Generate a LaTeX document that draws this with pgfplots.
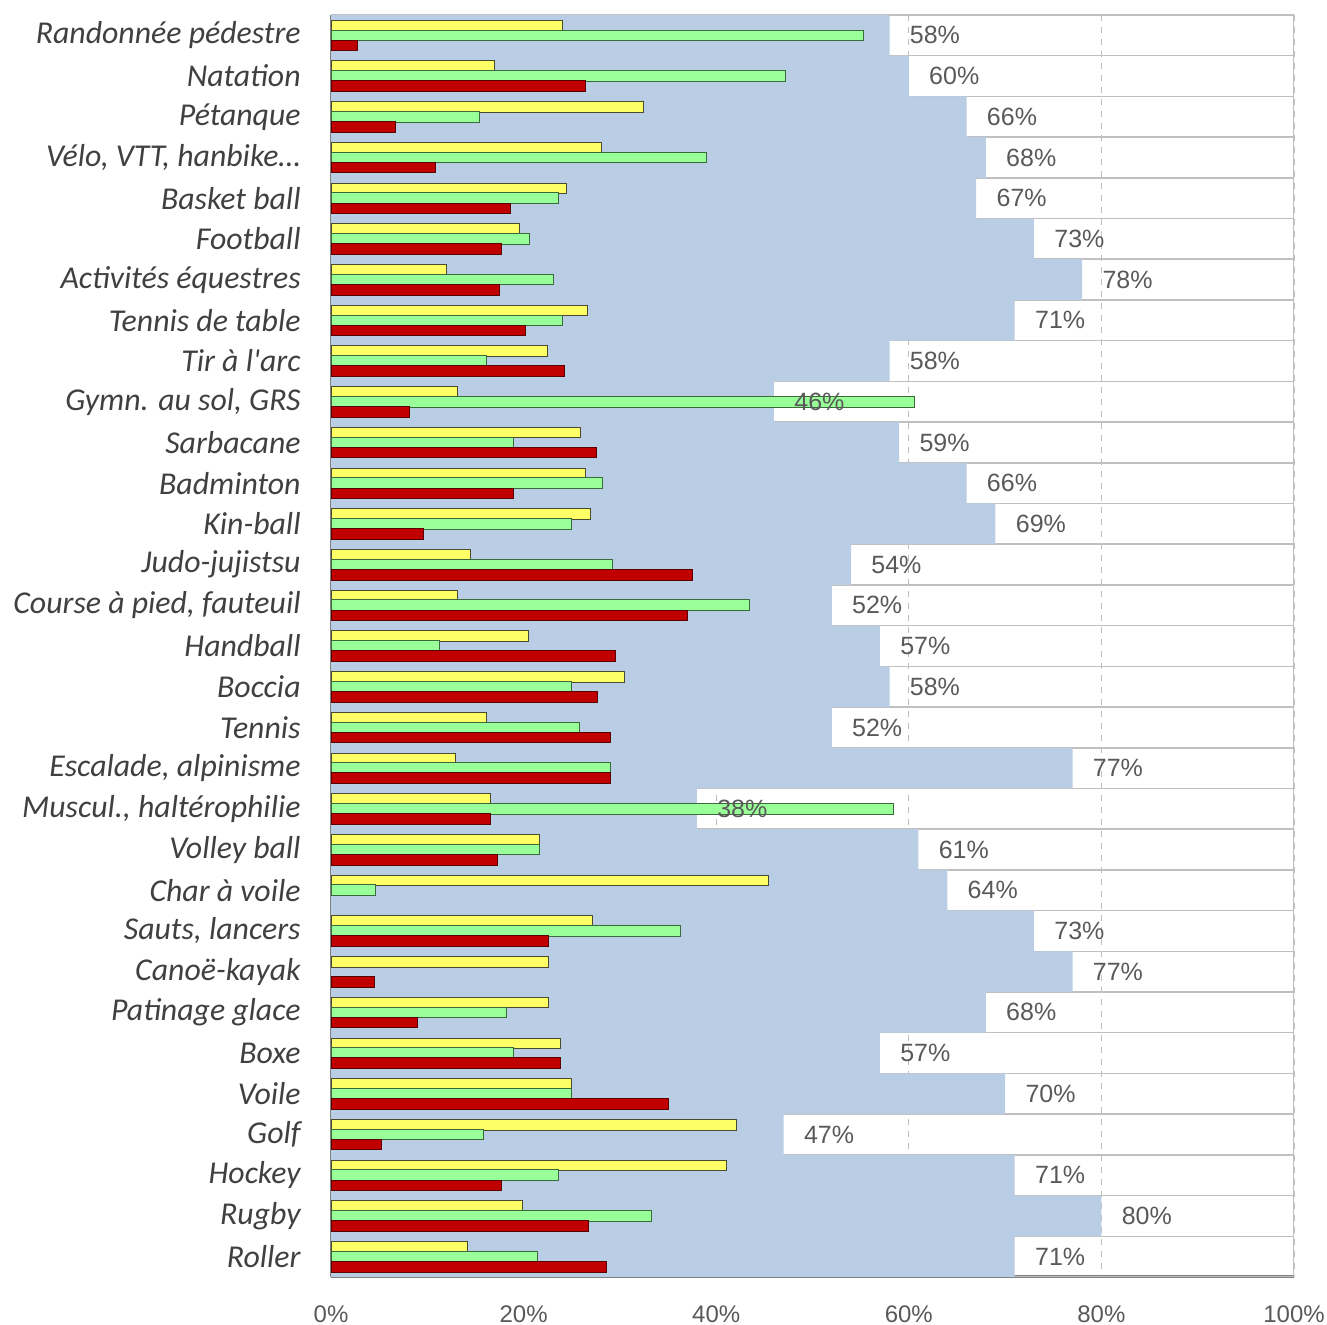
\documentclass[border=0pt]{standalone}
\usepackage{fontspec}
\setmainfont{Carlito}
\newfontfamily\arial{Liberation Sans}
\usepackage{pgfplots}
\pgfplotsset{compat=1.18}
\usepackage{pgfplotstable}
\definecolor{bgblue}{HTML}{B9CDE5}
\definecolor{byel}{HTML}{FFFF66}
\definecolor{bgrn}{HTML}{99FF99}
\definecolor{bred}{HTML}{C00000}
\definecolor{eyel}{HTML}{4A4A30}
\definecolor{egrn}{HTML}{3A6A3A}
\definecolor{ered}{HTML}{5A0000}
\definecolor{outl}{HTML}{C0C0C0}
\definecolor{gridc}{HTML}{BFBFBF}
\definecolor{axc}{HTML}{808080}
\definecolor{lblc}{HTML}{595959}
\definecolor{catc}{HTML}{404040}
\pgfplotsset{layers/mylayers/.define layer set={axis background,axis grid,main,axis ticks,axis lines,axis tick labels,axis descriptions,axis foreground}{}}
\pgfplotstableread{
idx Y G R B T
0 24.0 55.3 2.7 58 100
1 17.0 47.2 26.4 60 100
2 32.5 15.4 6.7 66 100
3 28.1 39.0 10.9 68 100
4 24.5 23.6 18.6 67 100
5 19.6 20.6 17.7 73 100
6 12.0 23.1 17.5 78 100
7 26.6 24.0 20.2 71 100
8 22.5 16.1 24.2 58 100
9 13.1 60.6 8.2 46 100
10 25.9 18.9 27.6 59 100
11 26.4 28.2 18.9 66 100
12 26.9 25.0 9.6 69 100
13 14.5 29.2 37.5 54 100
14 13.1 43.5 37.0 52 100
15 20.5 11.3 29.5 57 100
16 30.5 25.0 27.7 58 100
17 16.1 25.8 29.0 52 100
18 12.9 29.0 29.0 77 100
19 16.6 58.4 16.6 38 100
20 21.7 21.7 17.3 61 100
21 45.4 4.6 nan 64 100
22 27.2 36.3 22.6 73 100
23 22.6 nan 4.5 77 100
24 22.6 18.2 9.0 68 100
25 23.8 19.0 23.8 57 100
26 25.0 25.0 35.0 70 100
27 42.1 15.8 5.2 47 100
28 41.1 23.6 17.7 71 100
29 19.9 33.3 26.7 80 100
30 14.2 21.4 28.6 71 100
}\data
\begin{document}
\begin{tikzpicture}
\begin{axis}[
  set layers=mylayers,
  scale only axis, width=481.5pt, height=631pt,
  xmin=0, xmax=100, ymin=-0.5, ymax=30.5, y dir=reverse,
  xbar, bar width=0.26,
  xtick={0,20,40,60,80,100},
  xticklabel={\pgfmathprintnumber{\tick}\%},
  /pgf/number format/assume math mode=true,
  xticklabel style={font=\arial\fontsize{12}{14}\selectfont, text=lblc, inner sep=0pt, yshift=-14pt},
  ytick={0,...,30},
  yticklabels={Randonnée pédestre, Natation, Pétanque, {Vélo, VTT, hanbike…}, Basket ball, Football, Activités équestres, Tennis de table, Tir à l\textquotesingle arc, {Gymn. au sol, GRS}, Sarbacane, Badminton, Kin-ball, Judo-jujistsu, {Course à pied, fauteuil}, Handball, Boccia, Tennis, {Escalade, alpinisme}, {Muscul., haltérophilie}, Volley ball, Char à voile, {Sauts, lancers}, Canoë-kayak, Patinage glace, Boxe, Voile, Golf, Hockey, Rugby, Roller},
  yticklabel style={font=\fontsize{15.9}{18}\selectfont\itshape, text=catc, inner sep=0pt, xshift=-15pt},
  major tick length=0pt,
  xmajorgrids, grid style={dashed, draw=gridc, line width=0.6pt},
  axis x line*=bottom, axis y line*=left,
  every outer x axis line/.append style={draw=axc, line width=1.5pt},
  every outer y axis line/.append style={draw=axc, line width=1.5pt},
  every inner x axis line/.append style={draw=axc, line width=1.5pt},
  every inner y axis line/.append style={draw=axc, line width=1.5pt},
]
\addplot[draw=outl, fill=none, line width=0.75pt, bar width=1, bar shift=0] table[x=T, y=idx] {\data};
\addplot[draw=none, fill=bgblue, bar width=1, bar shift=0] table[x=B, y=idx] {\data};
\addplot[draw=eyel, fill=byel, line width=0.5pt, bar shift=-0.24] table[x=Y, y=idx] {\data};
\addplot[draw=egrn, fill=bgrn, line width=0.5pt, bar shift=0] table[x=G, y=idx] {\data};
\addplot[draw=ered, fill=bred, line width=0.5pt, bar shift=0.25] table[x=R, y=idx] {\data};
\addplot[draw=none, fill=none, bar width=1, bar shift=0, point meta=x,
  nodes near coords={\pgfmathprintnumber{\pgfplotspointmeta}\%},
  nodes near coords style={anchor=west, inner sep=0pt, xshift=10pt, font=\arial\fontsize{12.5}{14}\selectfont, text=lblc}]
  table[x=B, y=idx] {\data};
\end{axis}
\pgfresetboundingbox
\path ([xshift=-165.5pt,yshift=-24pt]current axis.south west) rectangle ([xshift=16.5pt,yshift=7.5pt]current axis.north east);
\end{tikzpicture}
\end{document}
